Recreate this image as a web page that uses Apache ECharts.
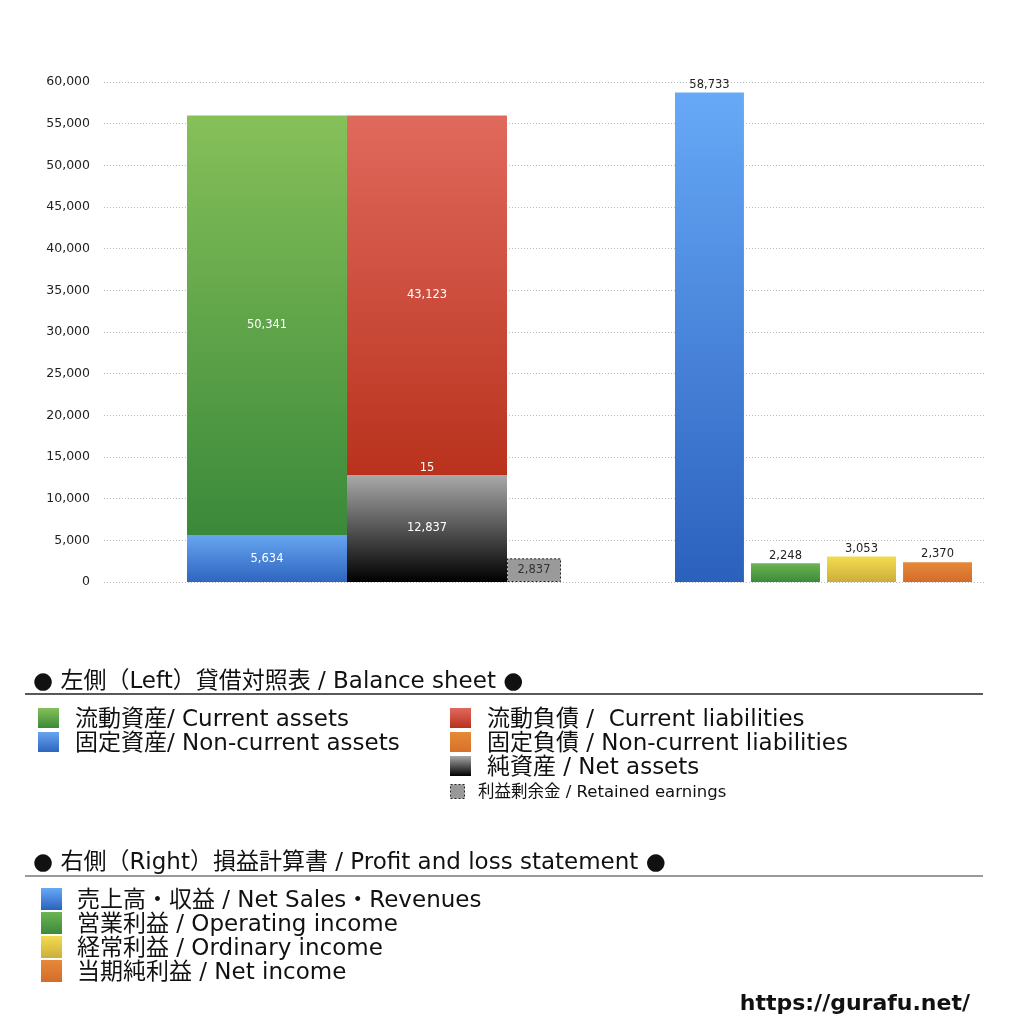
<!DOCTYPE html>
<html><head><meta charset="utf-8">
<script src="https://cdn.jsdelivr.net/npm/echarts@6/dist/echarts.min.js"></script>
<style>html,body{margin:0;padding:0;background:#fff}#c{width:1024px;height:1024px}</style>
</head><body><div id="c"></div>
<script>
// ---- data ----
const yTicks = [0, 5000, 10000, 15000, 20000, 25000, 30000, 35000, 40000, 45000, 50000, 55000, 60000];
const bsCategory = ['貸借対照表'];
const plCategory = ['損益計算書'];
const nonCurrentAssets = [5634];
const currentAssets = [50341];
const netAssets = [12837];
const nonCurrentLiabilities = [15];
const currentLiabilities = [43123];
const retainedEarnings = [2837];
const netSales = [58733];
const operatingIncome = [2248];
const ordinaryIncome = [3053];
const netIncome = [2370];
const legendLeft = ['流動資産/ Current assets', '固定資産/ Non-current assets', '流動負債 /  Current liabilities', '固定負債 / Non-current liabilities', '純資産 / Net assets', '利益剰余金 / Retained earnings'];
const legendRight = ['売上高・収益 / Net Sales・Revenues', '営業利益 / Operating income', '経常利益 / Ordinary income', '当期純利益 / Net income'];
const header1 = '● 左側（Left）貸借対照表 / Balance sheet ●';
const header2 = '● 右側（Right）損益計算書 / Profit and loss statement ●';
const siteUrl = 'https://gurafu.net/';

// ---- styles ----
const FONT = '"DejaVu Sans", "Noto Sans CJK JP", sans-serif';
function grad(a, b) {
  return new echarts.graphic.LinearGradient(0, 0, 0, 1, [{offset: 0, color: a}, {offset: 1, color: b}]);
}
const C = {
  green: ['#86C059', '#3A893A'],
  blue: ['#67A5F0', '#2E65C0'],
  red: ['#E0695D', '#B9321D'],
  black: ['#A9A9A9', '#000000'],
  orange: ['#E58B36', '#D8702A'],
  sales: ['#67A9F7', '#2B61BD'],
  opgreen: ['#6DB553', '#3C8A3A'],
  yellow: ['#F3DC4F', '#CDAD3B'],
  netorange: ['#E6893A', '#D46C2A']
};
const PLOT_TOP = 82, PLOT_BOTTOM = 1024 - 582;
const whiteLabel = {show: true, position: 'inside', color: '#fff', fontSize: 11.5, fontFamily: FONT, formatter: p => p.value.toLocaleString('en-US')};
const topLabel = {show: true, position: 'top', distance: 2, color: '#222', fontSize: 11.5, fontFamily: FONT, formatter: p => p.value.toLocaleString('en-US')};

const chart = echarts.init(document.getElementById('c'));

const graphics = [];
const TY = 2; // text vertical nudge
function header(text, y, lineY, lineColor) {
  graphics.push({type: 'text', x: 33, y: y + TY, style: {text: text, font: '23px ' + FONT, fill: '#111', verticalAlign: 'middle', textVerticalAlign: 'middle'}});
  graphics.push({type: 'line', shape: {x1: 25, y1: lineY, x2: 983, y2: lineY}, style: {stroke: lineColor, lineWidth: 1.5}});
}
function item(text, sx, tx, cy, colors, fontSize, w, h) {
  graphics.push({type: 'rect', shape: {x: sx, y: cy - h / 2, width: w, height: h}, style: {fill: grad(colors[0], colors[1])}});
  graphics.push({type: 'text', x: tx, y: cy + TY, style: {text: text, font: fontSize + 'px ' + FONT, fill: '#111', verticalAlign: 'middle', textVerticalAlign: 'middle'}});
}
header(header1, 680, 694, '#222');
item(legendLeft[0], 38, 75, 718, C.green, 23, 21, 20);
item(legendLeft[1], 38, 75, 742, C.blue, 23, 21, 20);
item(legendLeft[2], 450, 487, 718, C.red, 23, 21, 20);
item(legendLeft[3], 450, 487, 742, C.orange, 23, 21, 20);
item(legendLeft[4], 450, 487, 766, C.black, 23, 21, 20);
graphics.push({type: 'rect', shape: {x: 450.5, y: 784.5, width: 14, height: 14}, style: {fill: '#999', stroke: '#222', lineWidth: 1, lineDash: [2, 2]}});
graphics.push({type: 'text', x: 478, y: 792 + 1, style: {text: legendLeft[5], font: '16.5px ' + FONT, fill: '#111', verticalAlign: 'middle', textVerticalAlign: 'middle'}});

header(header2, 861, 876, '#777');
item(legendRight[0], 41, 77, 899, C.sales, 23, 21, 22);
item(legendRight[1], 41, 77, 923, C.opgreen, 23, 21, 22);
item(legendRight[2], 41, 77, 947, C.yellow, 23, 21, 22);
item(legendRight[3], 41, 77, 971, C.netorange, 23, 21, 22);
graphics.push({type: 'text', x: 970, y: 1004, style: {text: siteUrl, font: 'bold 22px "DejaVu Sans", sans-serif', fill: '#111', align: 'right', textAlign: 'right', verticalAlign: 'middle', textVerticalAlign: 'middle'}});

const hiddenY = {type: 'value', min: yTicks[0], max: yTicks[yTicks.length - 1], interval: yTicks[1] - yTicks[0], show: false};

chart.setOption({
  animation: false,
  backgroundColor: '#fff',
  grid: [
    {left: 104, right: 39, top: PLOT_TOP, bottom: PLOT_BOTTOM},
    {left: 187, width: 374, top: PLOT_TOP, bottom: PLOT_BOTTOM},
    {left: 675, width: 297, top: PLOT_TOP, bottom: PLOT_BOTTOM}
  ],
  xAxis: [
    {type: 'category', gridIndex: 0, data: [''], show: false},
    {type: 'category', gridIndex: 1, data: bsCategory, show: false},
    {type: 'category', gridIndex: 2, data: plCategory, show: false}
  ],
  yAxis: [
    {type: 'value', gridIndex: 0, min: yTicks[0], max: yTicks[yTicks.length - 1], interval: yTicks[1] - yTicks[0],
      axisLine: {show: false}, axisTick: {show: false},
      axisLabel: {color: '#222', fontSize: 12.5, fontFamily: FONT, margin: 14, formatter: v => v.toLocaleString('en-US')},
      splitLine: {show: true, lineStyle: {color: '#bbb', type: [1, 2], width: 1}}},
    Object.assign({gridIndex: 1}, hiddenY),
    Object.assign({gridIndex: 2}, hiddenY)
  ],
  graphic: graphics,
  series: [
    {name: '固定資産', type: 'bar', xAxisIndex: 1, yAxisIndex: 1, stack: 'assets', barWidth: 160, barGap: '0%', data: nonCurrentAssets, itemStyle: {color: grad(C.blue[0], C.blue[1])}, label: whiteLabel},
    {name: '流動資産', type: 'bar', xAxisIndex: 1, yAxisIndex: 1, stack: 'assets', barWidth: 160, barGap: '0%', data: currentAssets, itemStyle: {color: grad(C.green[0], C.green[1])}, label: whiteLabel},
    {name: '純資産', type: 'bar', xAxisIndex: 1, yAxisIndex: 1, stack: 'liab', barWidth: 160, barGap: '0%', data: netAssets, itemStyle: {color: grad(C.black[0], C.black[1])}, label: whiteLabel},
    {name: '固定負債', type: 'bar', xAxisIndex: 1, yAxisIndex: 1, stack: 'liab', barWidth: 160, barGap: '0%', data: nonCurrentLiabilities, itemStyle: {color: C.orange[0]}, label: Object.assign({}, whiteLabel, {position: 'top', distance: 1})},
    {name: '流動負債', type: 'bar', xAxisIndex: 1, yAxisIndex: 1, stack: 'liab', barWidth: 160, barGap: '0%', data: currentLiabilities, itemStyle: {color: grad(C.red[0], C.red[1])}, label: whiteLabel},
    {name: '利益剰余金', type: 'bar', xAxisIndex: 1, yAxisIndex: 1, barWidth: 54, barGap: '0%', data: retainedEarnings, itemStyle: {color: '#9a9a9a', borderColor: '#222', borderWidth: 1, borderType: [2, 2]}, label: Object.assign({}, whiteLabel, {color: '#333'})},
    {name: '売上高・収益', type: 'bar', xAxisIndex: 2, yAxisIndex: 2, barWidth: 69, barGap: '10.2%', data: netSales, itemStyle: {color: grad(C.sales[0], C.sales[1])}, label: topLabel},
    {name: '営業利益', type: 'bar', xAxisIndex: 2, yAxisIndex: 2, barWidth: 69, barGap: '10.2%', data: operatingIncome, itemStyle: {color: grad(C.opgreen[0], C.opgreen[1])}, label: topLabel},
    {name: '経常利益', type: 'bar', xAxisIndex: 2, yAxisIndex: 2, barWidth: 69, barGap: '10.2%', data: ordinaryIncome, itemStyle: {color: grad(C.yellow[0], C.yellow[1])}, label: topLabel},
    {name: '当期純利益', type: 'bar', xAxisIndex: 2, yAxisIndex: 2, barWidth: 69, barGap: '10.2%', data: netIncome, itemStyle: {color: grad(C.netorange[0], C.netorange[1])}, label: topLabel}
  ]
});
</script></body></html>
